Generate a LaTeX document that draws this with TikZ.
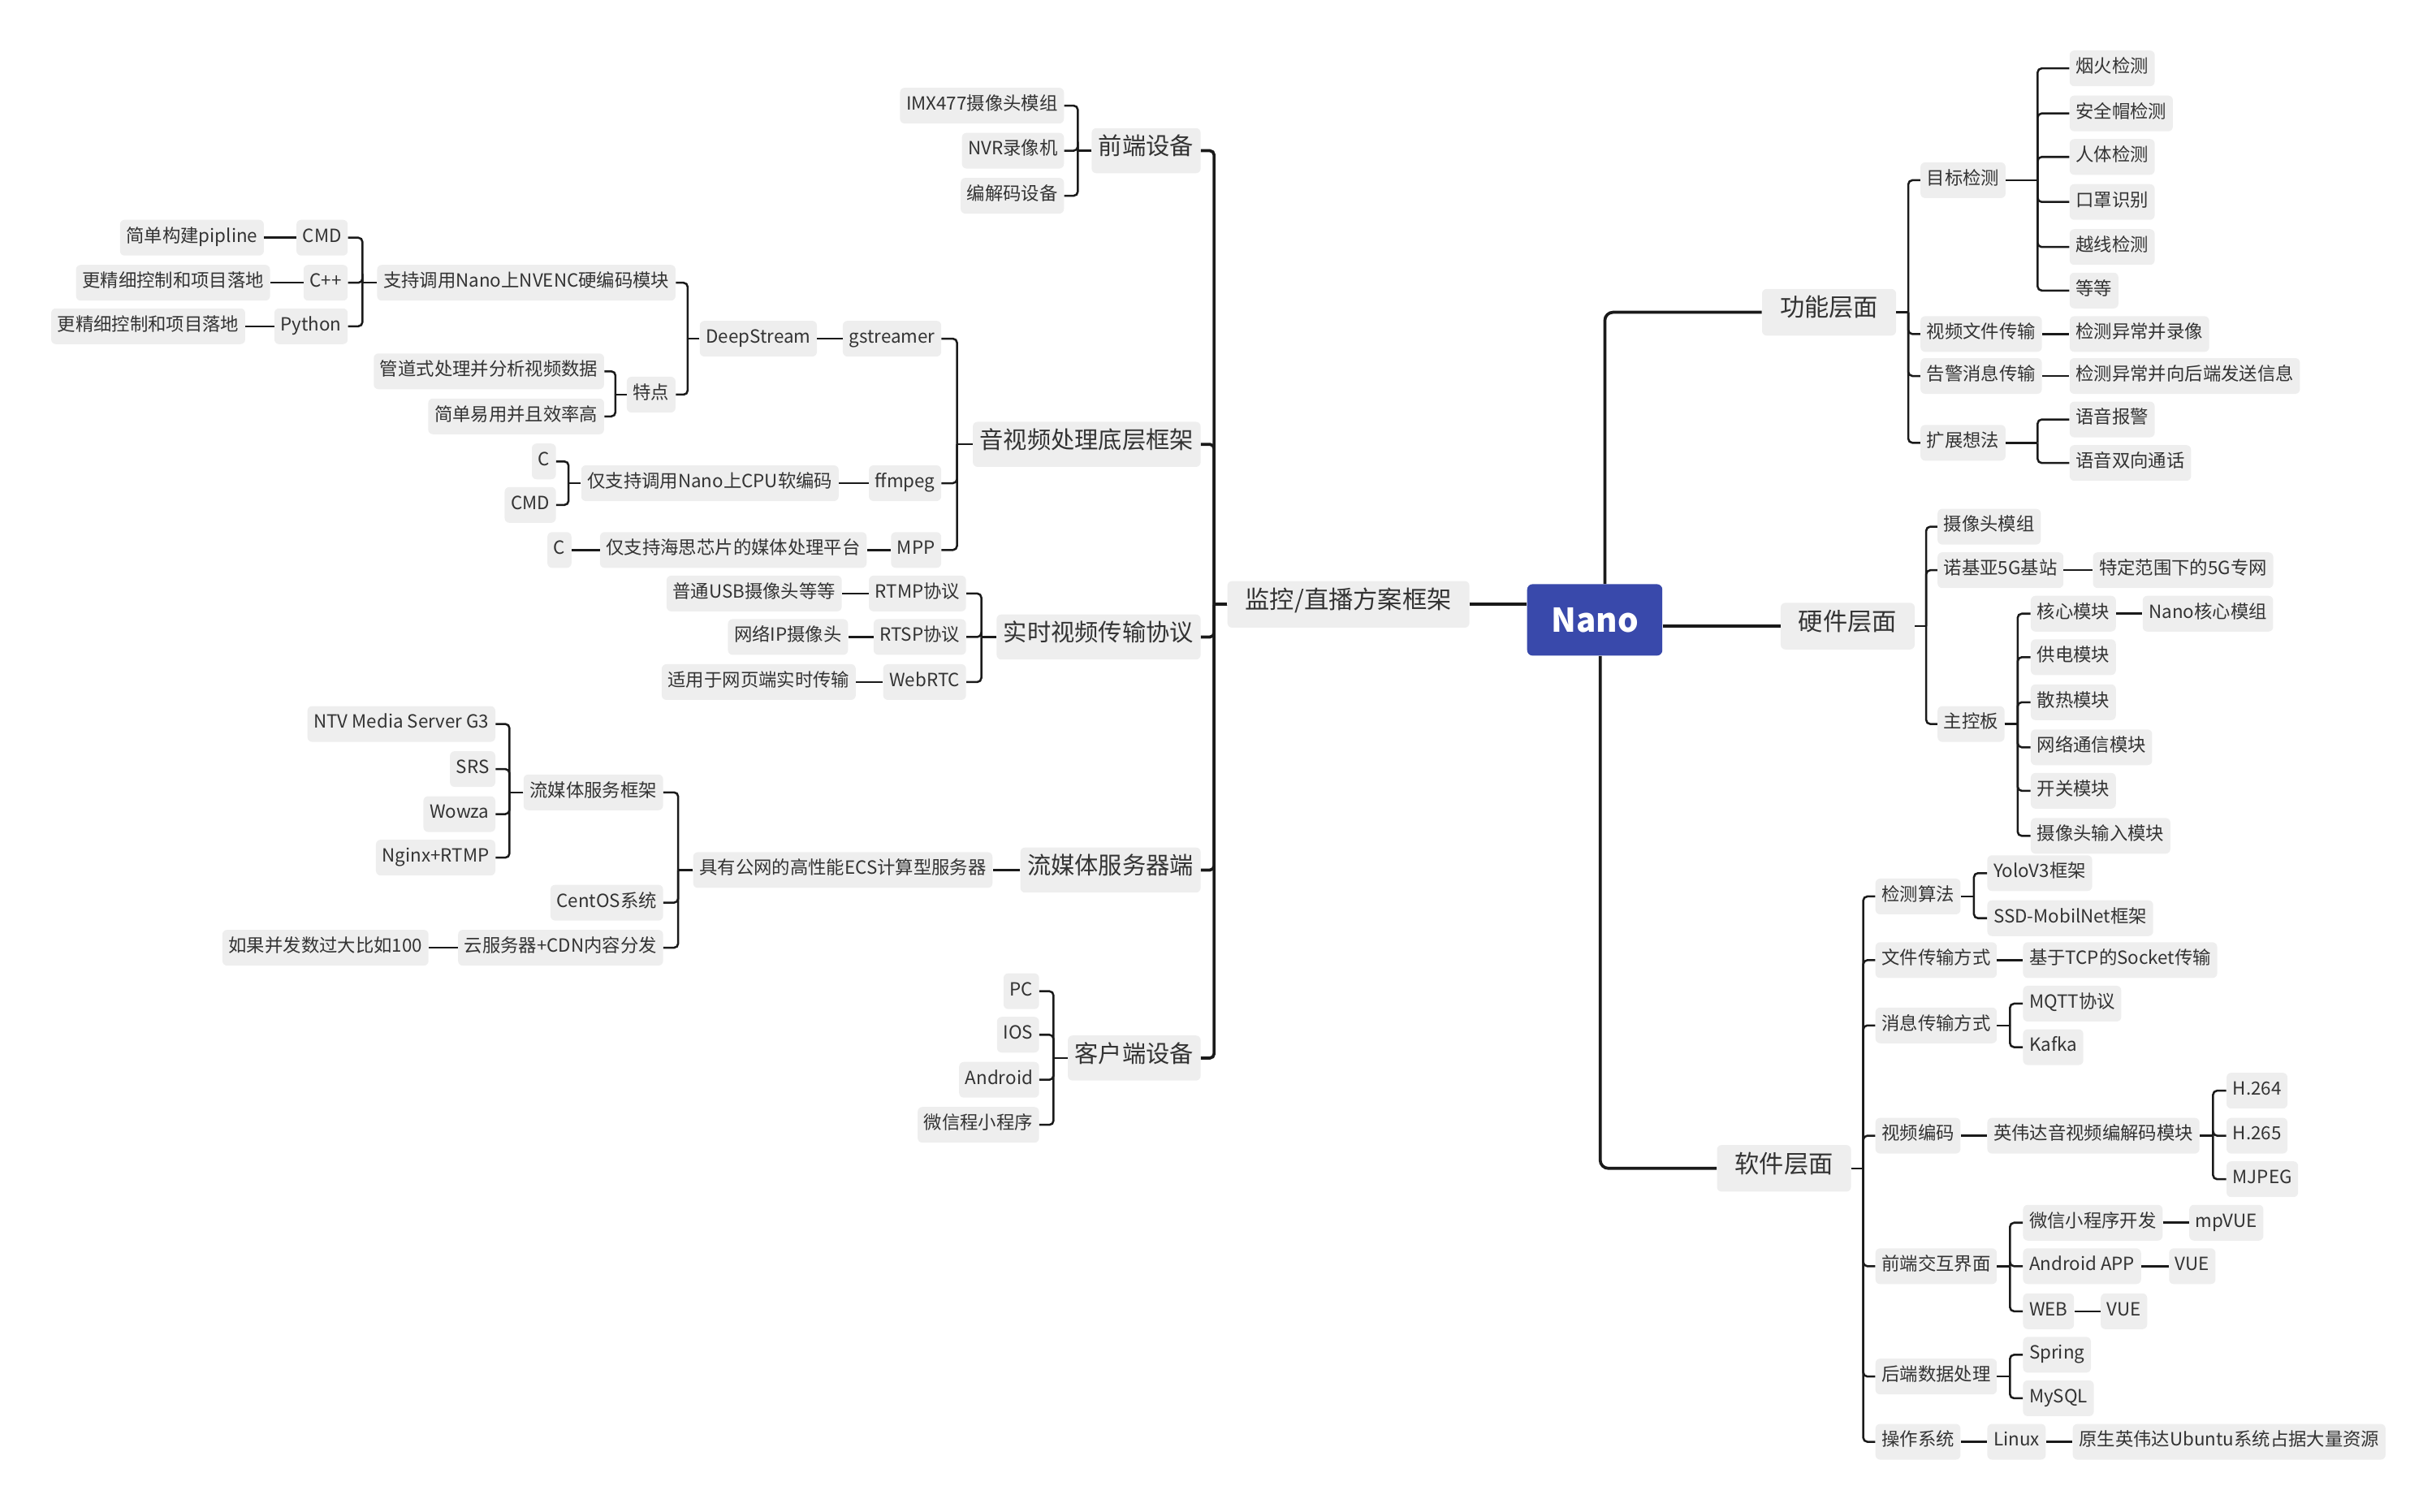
\documentclass[tikz,border=0pt]{standalone}
\usepackage{fontspec}
\setmainfont{Noto Sans CJK SC}
\usepackage{xcolor}
\usepackage{tikz}
\usetikzlibrary{calc}
\definecolor{nanoblue}{RGB}{57,73,171}
\definecolor{boxgray}{RGB}{238,238,238}
\definecolor{inkgray}{RGB}{51,51,51}
\definecolor{linegray}{RGB}{26,26,26}
% parent on the right, child on the left
\newcommand\lsub[3][link]{%
  \draw[#1] (#2.west) -- ($(#2.west)!.5!(#2.west -| #3.east)$) coordinate (sp);
  \draw[#1, rounded corners=3pt] (sp) |- (#3.east);}
% parent on the left, child on the right
\newcommand\rsub[3][link]{%
  \draw[#1] (#2.east) -- ($(#2.east)!.5!(#2.east -| #3.west)$) coordinate (sp);
  \draw[#1, rounded corners=3pt] (sp) |- (#3.west);}
% only child, same height
\newcommand\lone[2]{\draw[link] (#1.west) -- (#2.east);}
\newcommand\rone[2]{\draw[link] (#1.east) -- (#2.west);}

\begin{document}
\begin{tikzpicture}[x=0.04cm, y=-0.04cm]
    \tikzstyle{leaf}=[fill=boxgray, text=inkgray, rounded corners=0.12cm, inner xsep=0.16cm, inner ysep=0pt, minimum height=0.92cm, text height=0.82em, text depth=0.18em, font=\fontsize{13.3}{16}\selectfont]
    \tikzstyle{topic}=[leaf, inner xsep=0.18cm, minimum height=1.16cm, font=\fontsize{17.4}{20}\selectfont]
    \tikzstyle{branch}=[leaf, inner xsep=0.46cm, minimum height=1.2cm, font=\fontsize{18}{20}\selectfont]
    \tikzstyle{root}=[fill=nanoblue, text=white, rounded corners=0.14cm, minimum width=3.48cm, minimum height=1.84cm, font=\fontsize{24}{28}\selectfont\bfseries]
    \tikzstyle{link}=[draw=linegray, line width=1.5pt]
    \tikzstyle{trunk}=[draw=linegray, line width=2.2pt]
    \useasboundingbox (0,0) rectangle (1568,973);

    \node[root] (nano) at (1026.5,399) {Nano};

    % left: 监控/直播方案框架
    \node[branch, anchor=east] (jk) at (946,389) {监控/直播方案框架};
    \draw[trunk] (jk.east) -- (jk.east -| nano.west);

    \node[topic, anchor=east] (fe) at (773,97) {前端设备};
    \lsub[trunk]{jk}{fe}
    \foreach \txt/\yy [count=\i] in {IMX477摄像头模组/68, NVR录像机/97, 编解码设备/126} {
      \node[leaf, anchor=east] (fe\i) at (685,\yy) {\txt};
      \lsub{fe}{fe\i}
    }

    \node[topic, anchor=east] (av) at (773,286) {音视频处理底层框架};
    \lsub[trunk]{jk}{av}
    \node[leaf, anchor=east] (gst) at (606,218) {gstreamer};
    \node[leaf, anchor=east] (ffm) at (606,311) {ffmpeg};
    \node[leaf, anchor=east] (mpp) at (606,354) {MPP};
    \lsub{av}{gst} \lsub{av}{ffm} \lsub{av}{mpp}
    \node[leaf, anchor=east] (ds) at (526,218) {DeepStream};
    \lone{gst}{ds}
    \node[leaf, anchor=east] (nvenc) at (435,182) {支持调用Nano上NVENC硬编码模块};
    \node[leaf, anchor=east] (td) at (435,254) {特点};
    \lsub{ds}{nvenc} \lsub{ds}{td}
    \node[leaf, anchor=east] (cmda) at (224,153) {CMD};
    \node[leaf, anchor=east] (cpp) at (224,182) {C++};
    \node[leaf, anchor=east] (py) at (224,210) {Python};
    \lsub{nvenc}{cmda} \lsub{nvenc}{cpp} \lsub{nvenc}{py}
    \node[leaf, anchor=east] (pip) at (170,153) {简单构建pipline};
    \node[leaf, anchor=east] (fine1) at (174,182) {更精细控制和项目落地};
    \node[leaf, anchor=east] (fine2) at (158,210) {更精细控制和项目落地};
    \lone{cmda}{pip} \lone{cpp}{fine1} \lone{py}{fine2}
    \node[leaf, anchor=east] (td1) at (389,239) {管道式处理并分析视频数据};
    \node[leaf, anchor=east] (td2) at (389,268) {简单易用并且效率高};
    \lsub{td}{td1} \lsub{td}{td2}
    \node[leaf, anchor=east] (cpu) at (540,311) {仅支持调用Nano上CPU软编码};
    \lone{ffm}{cpu}
    \node[leaf, anchor=east] (cb) at (358,297) {C};
    \node[leaf, anchor=east] (cmdb) at (358,325) {CMD};
    \lsub{cpu}{cb} \lsub{cpu}{cmdb}
    \node[leaf, anchor=east] (hisi) at (558,354) {仅支持海思芯片的媒体处理平台};
    \node[leaf, anchor=east] (cc) at (368,354) {C};
    \lone{mpp}{hisi} \lone{hisi}{cc}

    \node[topic, anchor=east] (rt) at (773,410) {实时视频传输协议};
    \lsub[trunk]{jk}{rt}
    \node[leaf, anchor=east] (rtmp) at (622,382) {RTMP协议};
    \node[leaf, anchor=east] (rtsp) at (622,410) {RTSP协议};
    \node[leaf, anchor=east] (webrtc) at (622,439) {WebRTC};
    \lsub{rt}{rtmp} \lsub{rt}{rtsp} \lsub{rt}{webrtc}
    \node[leaf, anchor=east] (usb) at (542,382) {普通USB摄像头等等};
    \node[leaf, anchor=east] (ipcam) at (546,410) {网络IP摄像头};
    \node[leaf, anchor=east] (webend) at (551,439) {适用于网页端实时传输};
    \lone{rtmp}{usb} \lone{rtsp}{ipcam} \lone{webrtc}{webend}

    \node[topic, anchor=east] (sm) at (773,560) {流媒体服务器端};
    \lsub[trunk]{jk}{sm}
    \node[leaf, anchor=east] (ecs) at (639,560) {具有公网的高性能ECS计算型服务器};
    \lone{sm}{ecs}
    \node[leaf, anchor=east] (smf) at (427,510) {流媒体服务框架};
    \node[leaf, anchor=east] (centos) at (427,581) {CentOS系统};
    \node[leaf, anchor=east] (cdn) at (427,610) {云服务器+CDN内容分发};
    \lsub{ecs}{smf} \lsub{ecs}{centos} \lsub{ecs}{cdn}
    \foreach \txt/\yy [count=\i] in {NTV Media Server G3/466, SRS/495, Wowza/524, Nginx+RTMP/552} {
      \node[leaf, anchor=east] (smf\i) at (319,\yy) {\txt};
      \lsub{smf}{smf\i}
    }
    \node[leaf, anchor=east] (bf) at (276,610) {如果并发数过大比如100};
    \lone{cdn}{bf}

    \node[topic, anchor=east] (kh) at (773,681) {客户端设备};
    \lsub[trunk]{jk}{kh}
    \foreach \txt/\yy [count=\i] in {PC/638, IOS/666, Android/695, 微信程小程序/724} {
      \node[leaf, anchor=east] (kh\i) at (669,\yy) {\txt};
      \lsub{kh}{kh\i}
    }

    % right: 功能层面
    \node[branch, anchor=west] (gn) at (1134,201) {功能层面};
    \draw[trunk, rounded corners=6pt] ($(nano.north)+(6.5,0)$) |- (gn.west);
    \node[leaf, anchor=west] (mb) at (1236,116) {目标检测};
    \node[leaf, anchor=west] (spwj) at (1236,215) {视频文件传输};
    \node[leaf, anchor=west] (gj) at (1236,242) {告警消息传输};
    \node[leaf, anchor=west] (kz) at (1236,285) {扩展想法};
    \rsub{gn}{mb} \rsub{gn}{spwj} \rsub{gn}{gj} \rsub{gn}{kz}
    \foreach \txt/\yy [count=\i] in {烟火检测/44, 安全帽检测/73, 人体检测/101, 口罩识别/130, 越线检测/159, 等等/187} {
      \node[leaf, anchor=west] (mb\i) at (1332,\yy) {\txt};
      \rsub{mb}{mb\i}
    }
    \node[leaf, anchor=west] (lx) at (1332,215) {检测异常并录像};
    \node[leaf, anchor=west] (fs) at (1332,242) {检测异常并向后端发送信息};
    \rone{spwj}{lx} \rone{gj}{fs}
    \foreach \txt/\yy [count=\i] in {语音报警/270, 语音双向通话/298} {
      \node[leaf, anchor=west] (kz\i) at (1332,\yy) {\txt};
      \rsub{kz}{kz\i}
    }

    % right: 硬件层面
    \node[branch, anchor=west] (yj) at (1146,403) {硬件层面};
    \draw[trunk] (nano.east |- yj.west) -- (yj.west);
    \node[leaf, anchor=west] (sxt) at (1247,339) {摄像头模组};
    \node[leaf, anchor=west] (nokia) at (1247,367) {诺基亚5G基站};
    \node[leaf, anchor=west] (zkb) at (1247,466) {主控板};
    \rsub{yj}{sxt} \rsub{yj}{nokia} \rsub{yj}{zkb}
    \node[leaf, anchor=west] (zw) at (1347,367) {特定范围下的5G专网};
    \rone{nokia}{zw}
    \foreach \txt/\yy [count=\i] in {核心模块/395, 供电模块/423, 散热模块/452, 网络通信模块/481, 开关模块/509, 摄像头输入模块/538} {
      \node[leaf, anchor=west] (zkb\i) at (1307,\yy) {\txt};
      \rsub{zkb}{zkb\i}
    }
    \node[leaf, anchor=west] (hxmz) at (1379,395) {Nano核心模组};
    \rone{zkb1}{hxmz}

    % right: 软件层面
    \node[branch, anchor=west] (rj) at (1105,752) {软件层面};
    \draw[trunk, rounded corners=6pt] ($(nano.south)+(3.5,0)$) |- (rj.west);
    \node[leaf, anchor=west] (jc) at (1207,577) {检测算法};
    \node[leaf, anchor=west] (wjcs) at (1207,618) {文件传输方式};
    \node[leaf, anchor=west] (xxcs) at (1207,660) {消息传输方式};
    \node[leaf, anchor=west] (spbm) at (1207,731) {视频编码};
    \node[leaf, anchor=west] (qd) at (1207,815) {前端交互界面};
    \node[leaf, anchor=west] (hd) at (1207,886) {后端数据处理};
    \node[leaf, anchor=west] (czxt) at (1207,928) {操作系统};
    \foreach \n in {jc, wjcs, xxcs, spbm, qd, hd, czxt} {\rsub{rj}{\n}}
    \foreach \txt/\yy [count=\i] in {YoloV3框架/562, SSD-MobilNet框架/591} {
      \node[leaf, anchor=west] (jc\i) at (1279,\yy) {\txt};
      \rsub{jc}{jc\i}
    }
    \node[leaf, anchor=west] (socket) at (1302,618) {基于TCP的Socket传输};
    \rone{wjcs}{socket}
    \foreach \txt/\yy [count=\i] in {MQTT协议/646, Kafka/674} {
      \node[leaf, anchor=west] (xx\i) at (1302,\yy) {\txt};
      \rsub{xxcs}{xx\i}
    }
    \node[leaf, anchor=west] (nv) at (1279,731) {英伟达音视频编解码模块};
    \rone{spbm}{nv}
    \foreach \txt/\yy [count=\i] in {H.264/702, H.265/731, MJPEG/759} {
      \node[leaf, anchor=west] (nv\i) at (1433,\yy) {\txt};
      \rsub{nv}{nv\i}
    }
    \node[leaf, anchor=west] (wxkf) at (1302,787) {微信小程序开发};
    \node[leaf, anchor=west] (aapp) at (1302,815) {Android APP};
    \node[leaf, anchor=west] (webn) at (1302,844) {WEB};
    \rsub{qd}{wxkf} \rsub{qd}{aapp} \rsub{qd}{webn}
    \node[leaf, anchor=west] (mpvue) at (1409,787) {mpVUE};
    \node[leaf, anchor=west] (vue1) at (1396,815) {VUE};
    \node[leaf, anchor=west] (vue2) at (1352,844) {VUE};
    \rone{wxkf}{mpvue} \rone{aapp}{vue1} \rone{webn}{vue2}
    \foreach \txt/\yy [count=\i] in {Spring/872, MySQL/900} {
      \node[leaf, anchor=west] (hd\i) at (1302,\yy) {\txt};
      \rsub{hd}{hd\i}
    }
    \node[leaf, anchor=west] (linux) at (1279,928) {Linux};
    \node[leaf, anchor=west] (ubuntu) at (1334,928) {原生英伟达Ubuntu系统占据大量资源};
    \rone{czxt}{linux} \rone{linux}{ubuntu}
\end{tikzpicture}
\end{document}
